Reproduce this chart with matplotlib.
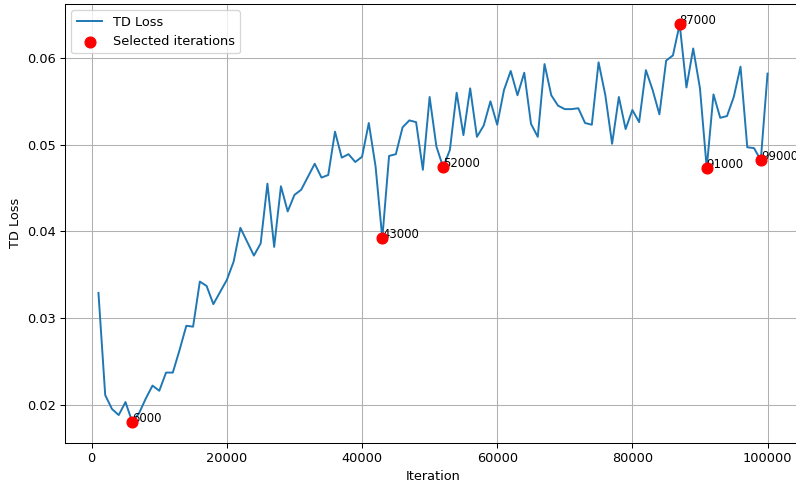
import numpy as np
import matplotlib
matplotlib.use('Agg')
import matplotlib.pyplot as plt

iterations = np.arange(1000, 100001, 1000)
td_loss = [0.0329, 0.0211, 0.0195, 0.0188, 0.0203, 0.0180, 0.0190, 0.0207, 0.0222, 0.0216,
           0.0237, 0.0237, 0.0263, 0.0291, 0.0290, 0.0342, 0.0337, 0.0316, 0.0330, 0.0344,
           0.0365, 0.0404, 0.0388, 0.0372, 0.0386, 0.0455, 0.0382, 0.0452, 0.0423, 0.0442,
           0.0448, 0.0463, 0.0478, 0.0462, 0.0465, 0.0515, 0.0485, 0.0489, 0.0480, 0.0486,
           0.0525, 0.0475, 0.0392, 0.0487, 0.0489, 0.0520, 0.0528, 0.0526, 0.0471, 0.0555,
           0.0498, 0.0474, 0.0494, 0.0560, 0.0511, 0.0565, 0.0509, 0.0522, 0.0550, 0.0523,
           0.0563, 0.0585, 0.0557, 0.0583, 0.0524, 0.0509, 0.0593, 0.0557, 0.0545, 0.0541,
           0.0541, 0.0542, 0.0525, 0.0523, 0.0595, 0.0557, 0.0501, 0.0555, 0.0518, 0.0540,
           0.0526, 0.0586, 0.0563, 0.0535, 0.0597, 0.0603, 0.0639, 0.0566, 0.0611, 0.0565,
           0.0473, 0.0558, 0.0531, 0.0533, 0.0555, 0.0590, 0.0497, 0.0496, 0.0482, 0.0582]
selected = [6000, 43000, 52000, 87000, 91000, 99000]

td_loss = np.array(td_loss)
sel_idx = [list(iterations).index(s) for s in selected]
sel_loss = td_loss[sel_idx]

dpi = 93
fig = plt.figure(figsize=(796 / dpi, 482 / dpi), dpi=dpi)
ax = fig.add_axes([65 / 796, 39.3 / 482, 736 / 796, 438.7 / 482])

ax.plot(iterations, td_loss, label='TD Loss')
ax.scatter(selected, sel_loss, color='red', s=70, zorder=5, label='Selected iterations')
for it, v in zip(selected, sel_loss):
    ax.annotate(str(it), (it, v), fontsize=9)

ax.set_xlim(-3950, 104950)
ax.set_ylim(0.01561, 0.06623)
ax.set_xlabel('Iteration')
ax.set_ylabel('TD Loss')
ax.grid(True)
ax.legend(loc='upper left')

fig.savefig('out.png', dpi=dpi)
